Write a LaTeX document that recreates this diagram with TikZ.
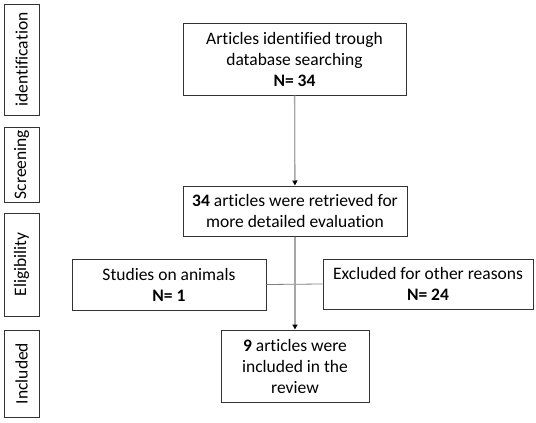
\documentclass[tikz,border=0pt]{standalone}
\usepackage{fontspec}
\setmainfont{Carlito}[Ligatures=NoCommon]
\usetikzlibrary{arrows.meta,positioning}
\tikzset{box/.style={draw=black!80,line width=1pt,align=center,inner sep=2pt,font=\fontsize{17.5}{21}\selectfont},phase/.style={box,minimum width=35,rotate=90},flow/.style={-{Triangle[length=5pt,width=5pt,color=black]},draw=black!35,line width=1.3pt},cut/.style={draw=black!50,line width=0.8pt}}

\begin{document}
\begin{tikzpicture}[x=1pt,y=-1pt]
\useasboundingbox (0,0) rectangle (536,423);
\node[phase,minimum width=111,minimum height=35] (ident) at (21.5,59.5) {identification};
\node[phase,minimum width=75,minimum height=35] (screen) at (21.5,164.5) {Screening};
\node[phase,minimum width=103,minimum height=35] (elig) at (21.5,264.5) {Eligibility};
\node[phase,minimum width=87,minimum height=35] (incl) at (21.5,373.5) {Included};
\node[box,minimum width=223,minimum height=72] (found) at (294.5,59) {Articles identified trough\\database searching\\\textbf{N= 34}};
\node[box,minimum width=224,minimum height=50] (kept) at (295,211) {\textbf{34} articles were retrieved for\\more detailed evaluation};
\node[box,minimum width=194,minimum height=51] (animal) at (169,284.5) {Studies on animals\\\textbf{N= 1}};
\node[box,minimum width=210,minimum height=50] (other) at (428,284) {Excluded for other reasons\\\textbf{N= 24}};
\node[box,minimum width=148,minimum height=72] (final) at (295,366) {\textbf{9} articles were\\included in the\\review};
\draw[cut] (animal.east) -- (other.west);
\draw[flow] (found) -- (kept);
\draw[flow] (kept) -- (final);
\end{tikzpicture}
\end{document}
